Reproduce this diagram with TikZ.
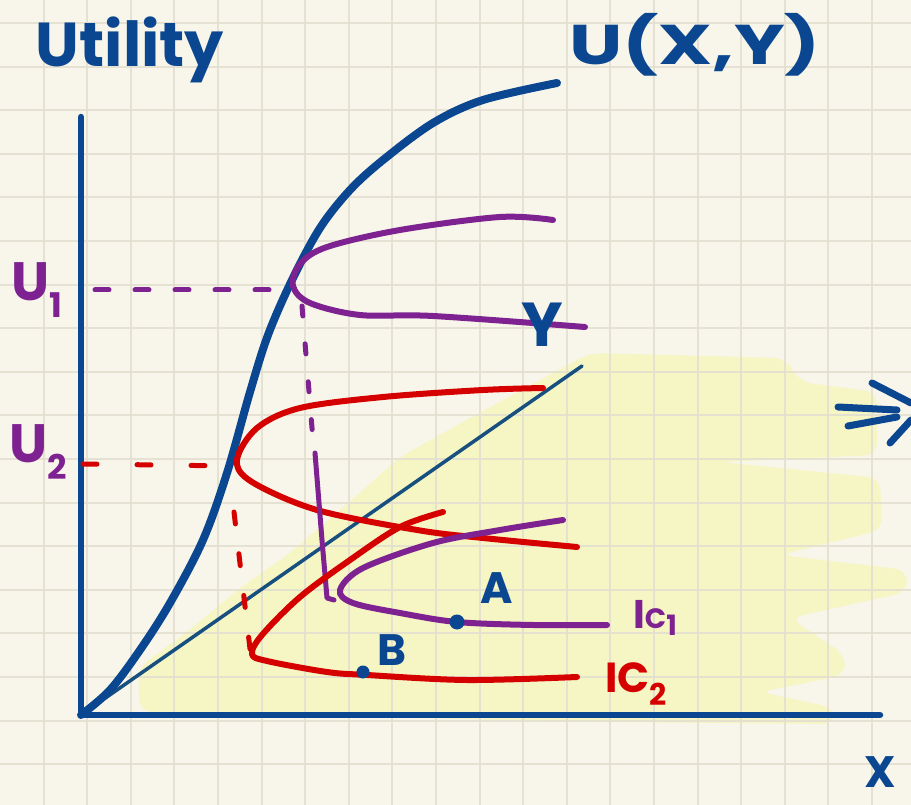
\documentclass[tikz,border=0pt]{standalone}
\usepackage{fontspec}
\setmainfont{Poppins}
\definecolor{paper}{HTML}{F8F6EA}
\definecolor{gridline}{HTML}{E2DFD0}
\definecolor{marker}{HTML}{F6F5C4}
\definecolor{inkblue}{HTML}{0B4790}
\definecolor{inkteal}{HTML}{17507F}
\definecolor{inkpurple}{HTML}{7D2290}
\definecolor{inkred}{HTML}{D50000}
\usetikzlibrary{calc}

\begin{document}
\begin{tikzpicture}[x=1pt,y=-1pt,
  ink/.style={line width=6pt, line cap=round, line join=round},
  curve/.style={ink, smooth, tension=0.55},
  guide/.style={line width=5pt, line cap=round, dash pattern=on 14pt off 26pt},
  hand/.style={font=\bfseries\fontsize{#1}{#1}\selectfont, inner sep=0pt},
  dot/.style={circle, fill=inkblue, inner sep=0pt, minimum size=#1}
]
  \useasboundingbox (0,0) rectangle (911,805);
  \fill[paper] (0,0) rectangle (911,805);

  % highlighter blob
  \fill[marker, rounded corners=12pt]
    (140,712) -- (138,668) -- (187,632) -- (240,588) -- (290,553)
    -- (363,490) -- (400,457) -- (503,400) -- (590,353) -- (785,358)
    -- (800,382) -- (877,392) -- (877,455) -- (720,462) -- (880,478)
    -- (882,530) -- (780,555) -- (907,570) -- (907,592) -- (790,618)
    -- (845,655) -- (845,675) -- (760,692) -- (835,708) -- (835,724)
    -- (600,722) -- cycle;

  % squared paper
  \foreach \gx in {1,...,20}
    \draw[gridline, line width=2pt, opacity=0.85] (\gx*43.6,0) -- (\gx*43.6,805);
  \foreach \gy in {0,...,18}
    \draw[gridline, line width=2pt, opacity=0.85] (0,23+\gy*43.6) -- (911,23+\gy*43.6);

  \coordinate (O) at (81,715);
  \coordinate (ytop) at (81,117);
  \coordinate (xend) at (880,715);
  \coordinate (diag) at (582,366);

  % axes and 45-degree line
  \draw[ink, inkblue, line width=6.5pt] (ytop) -- (O) -- (xend);
  \draw[inkteal, line width=3.5pt, line cap=round] (O) -- (diag);

  % utility curve
  \draw[curve, inkblue, line width=8pt] plot coordinates {(81,715) (110,690)
    (140,650) (170,603) (203,540) (227,473) (250,392) (268,335) (292,280)
    (320,228) (350,190) (383,160) (433,123) (483,100) (557,83)};

  % upper slices of the utility surface
  \draw[curve, inkpurple] plot coordinates {(553,220) (500,217) (400,230)
    (327,247) (300,264) (293,286) (310,303) (360,315) (433,316) (585,327)};
  \draw[curve, inkred] plot coordinates {(543,388) (483,390) (383,397)
    (300,408) (257,428) (237,460) (252,482) (317,510) (417,530) (483,538)
    (577,547)};

  % projections
  \draw[guide, inkpurple] (95,290) -- (290,290);
  \draw[guide, inkpurple, dash pattern=on 10pt off 28pt] (302,306) -- (313,440);
  \draw[ink, inkpurple, line width=5pt] (315,453) -- (322,540) -- (327,598) -- (334,600);
  \draw[guide, inkred, dash pattern=on 14pt off 40pt] (83,464) -- (232,466);
  \draw[guide, inkred, dash pattern=on 12pt off 30pt] (234,512) -- (252,666);

  % indifference curves
  \draw[curve, inkpurple] plot coordinates {(563,520) (500,530) (433,543)
    (363,568) (340,590) (353,603) (400,613) (457,622) (533,625) (607,625)};
  \draw[curve, inkred] plot coordinates {(443,512) (400,527) (350,560)
    (300,597) (262,635) (252,654) (267,661) (327,672) (367,675) (467,680)
    (577,677)};

  \node[dot=15pt] (pA) at (457,622) {};
  \node[dot=13pt] (pB) at (363,672) {};

  % labels
  \node[hand=62, inkblue] (util) at (130,50) {Utility};
  \node[hand=56, inkblue, xscale=1.35] (ufun) at (695,45) {U(X,Y)};
  \node[hand=54, inkpurple] (u1) at (37,290) {U\raisebox{-.3em}{\fontsize{34}{34}\selectfont 1}};
  \node[hand=54, inkpurple] (u2) at (38,452) {U\raisebox{-.3em}{\fontsize{34}{34}\selectfont 2}};
  \node[hand=62, inkblue] (ylab) at (542,325) {Y};
  \node[hand=44, inkblue] (xlab) at (880,772) {X};
  \node[hand=44, inkblue] (lA) at (497,588) {A};
  \node[hand=44, inkblue] (lB) at (392,650) {B};
  \node[hand=40, inkpurple] (ic1) at (655,618) {I\fontsize{28}{28}\selectfont C\raisebox{-.25em}{1}};
  \node[hand=42, inkred] (ic2) at (636,684) {IC\raisebox{-.3em}{\fontsize{30}{30}\selectfont 2}};

  % implies arrow at the right edge
  \draw[ink, inkblue, line width=7pt] (838,407) -- (897,410);
  \draw[ink, inkblue, line width=7pt] (848,426) -- (897,417);
  \draw[ink, inkblue, line width=7pt] (872,383) -- (911,403);
  \draw[ink, inkblue, line width=7pt] (890,443) -- (911,420);
\end{tikzpicture}
\end{document}
